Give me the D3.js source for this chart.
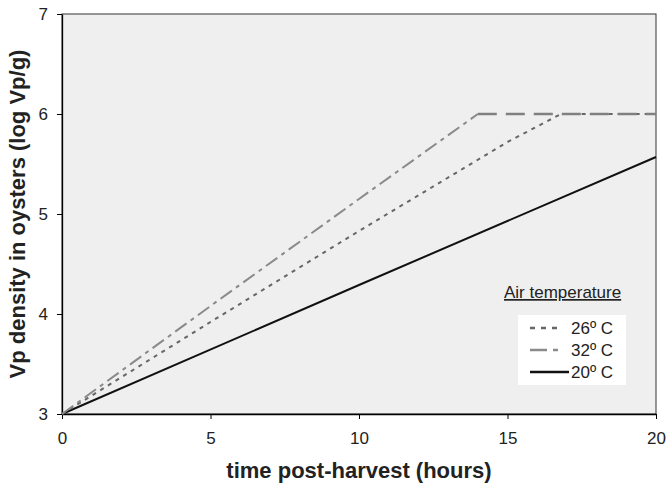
<!DOCTYPE html>
<html>
<head>
<meta charset="utf-8">
<script src="https://cdn.jsdelivr.net/npm/d3@7"></script>
<style>
  body { margin: 0; background: #fff; }
  text { font-family: "Liberation Sans", Arial, sans-serif; }
</style>
</head>
<body>
<script>
// hours post-harvest and Vp density (log Vp/g)
var hours26 = [0, 5, 10, 15, 16.8, 20];
var vp26 = [3, 3.92, 4.83, 5.72, 6, 6];
var hours32 = [0, 5, 10, 14, 20];
var vp32 = [3, 4.08, 5.15, 6, 6];
var hours20 = [0, 10, 20];
var vp20 = [3, 4.29, 5.57];
var xTicks = [0, 5, 10, 15, 20];
var yTicks = [3, 4, 5, 6, 7];
var legendLabels = ['26º C', '32º C', '20º C'];

var width = 666, height = 485;
var margin = {top: 14, right: 10, bottom: 71, left: 62};
var w = width - margin.left - margin.right;
var h = height - margin.top - margin.bottom;

var svg = d3.select('body').append('svg')
    .attr('width', width)
    .attr('height', height);

var g = svg.append('g').attr('transform', 'translate(' + margin.left + ',' + margin.top + ')');

var x = d3.scaleLinear().domain([0, 20]).range([0, w]);
var y = d3.scaleLinear().domain([3, 7]).range([h, 0]);

// plot area
g.append('rect')
    .attr('width', w).attr('height', h)
    .attr('fill', '#efefef')
    .attr('stroke', '#333').attr('stroke-width', 1);

var xAxis = d3.axisBottom(x).tickValues(xTicks).tickFormat(d3.format('d'))
    .tickSize(5).tickSizeOuter(0).tickPadding(13);
var yAxis = d3.axisLeft(y).tickValues(yTicks).tickFormat(d3.format('d'))
    .tickSize(5).tickSizeOuter(0).tickPadding(9);

var gx = g.append('g').attr('transform', 'translate(0,' + h + ')').call(xAxis);
var gy = g.append('g').call(yAxis);
[gx, gy].forEach(function(a) {
    a.select('.domain').attr('stroke', '#000').attr('stroke-width', 1.3);
    a.selectAll('.tick line').attr('stroke', '#000');
    a.selectAll('.tick text').attr('font-size', 17).attr('fill', '#222')
        .style('font-family', '"Liberation Sans", Arial, sans-serif');
});

var line = d3.line().x(d => x(d[0])).y(d => y(d[1]));

var pts20 = hours20.map((t, i) => [t, vp20[i]]);
var pts26 = hours26.map((t, i) => [t, vp26[i]]);
var pts32 = hours32.map((t, i) => [t, vp32[i]]);
var plateau = d3.max(vp32);
var rise32 = pts32.filter((d, i) => i === 0 || pts32[i - 1][1] < plateau);
var flat32 = pts32.filter(d => d[1] >= plateau);

g.append('path').datum(pts20).attr('d', line)
    .attr('fill', 'none').attr('stroke', '#111').attr('stroke-width', 2);

g.append('path').datum(pts26).attr('d', line)
    .attr('fill', 'none').attr('stroke', '#666').attr('stroke-width', 2)
    .attr('stroke-dasharray', '4,5');

g.append('path').datum(rise32).attr('d', line)
    .attr('fill', 'none').attr('stroke', '#8a8a8a').attr('stroke-width', 2)
    .attr('stroke-dasharray', '14,5,4,5');

g.append('path').datum(flat32).attr('d', line)
    .attr('fill', 'none').attr('stroke', '#808080').attr('stroke-width', 2.5)
    .attr('stroke-dasharray', '19,9');

// legend
svg.append('text')
    .attr('x', 504).attr('y', 298)
    .attr('font-size', 17).attr('fill', '#222')
    .attr('text-decoration', 'underline')
    .text('Air temperature');
var lg = svg.append('g').attr('transform', 'translate(518,315)');
lg.append('rect').attr('width', 108).attr('height', 70).attr('fill', '#fff');
var styles = [
    {stroke: '#666', dash: '5,6', x2: 45},
    {stroke: '#8a8a8a', dash: '17,6,5,6', x2: 45},
    {stroke: '#111', dash: null, x2: 51}
];
legendLabels.forEach(function(lab, i) {
    var yy = 13 + i * 22;
    lg.append('line')
        .attr('x1', 12).attr('x2', styles[i].x2).attr('y1', yy).attr('y2', yy)
        .attr('stroke', styles[i].stroke).attr('stroke-width', 2.5)
        .attr('stroke-dasharray', styles[i].dash);
    lg.append('text').attr('x', 53).attr('y', yy + 6)
        .attr('font-size', 17).attr('fill', '#222').text(lab);
});

// axis titles
svg.append('text')
    .attr('x', margin.left + w / 2).attr('y', 478)
    .attr('text-anchor', 'middle')
    .attr('font-size', 22).attr('font-weight', 'bold').attr('fill', '#222')
    .text('time post-harvest (hours)');
svg.append('text')
    .attr('transform', 'translate(25,' + (margin.top + h / 2) + ') rotate(-90)')
    .attr('text-anchor', 'middle')
    .attr('font-size', 22).attr('font-weight', 'bold').attr('fill', '#222')
    .text('Vp density in oysters (log Vp/g)');
</script>
</body>
</html>
